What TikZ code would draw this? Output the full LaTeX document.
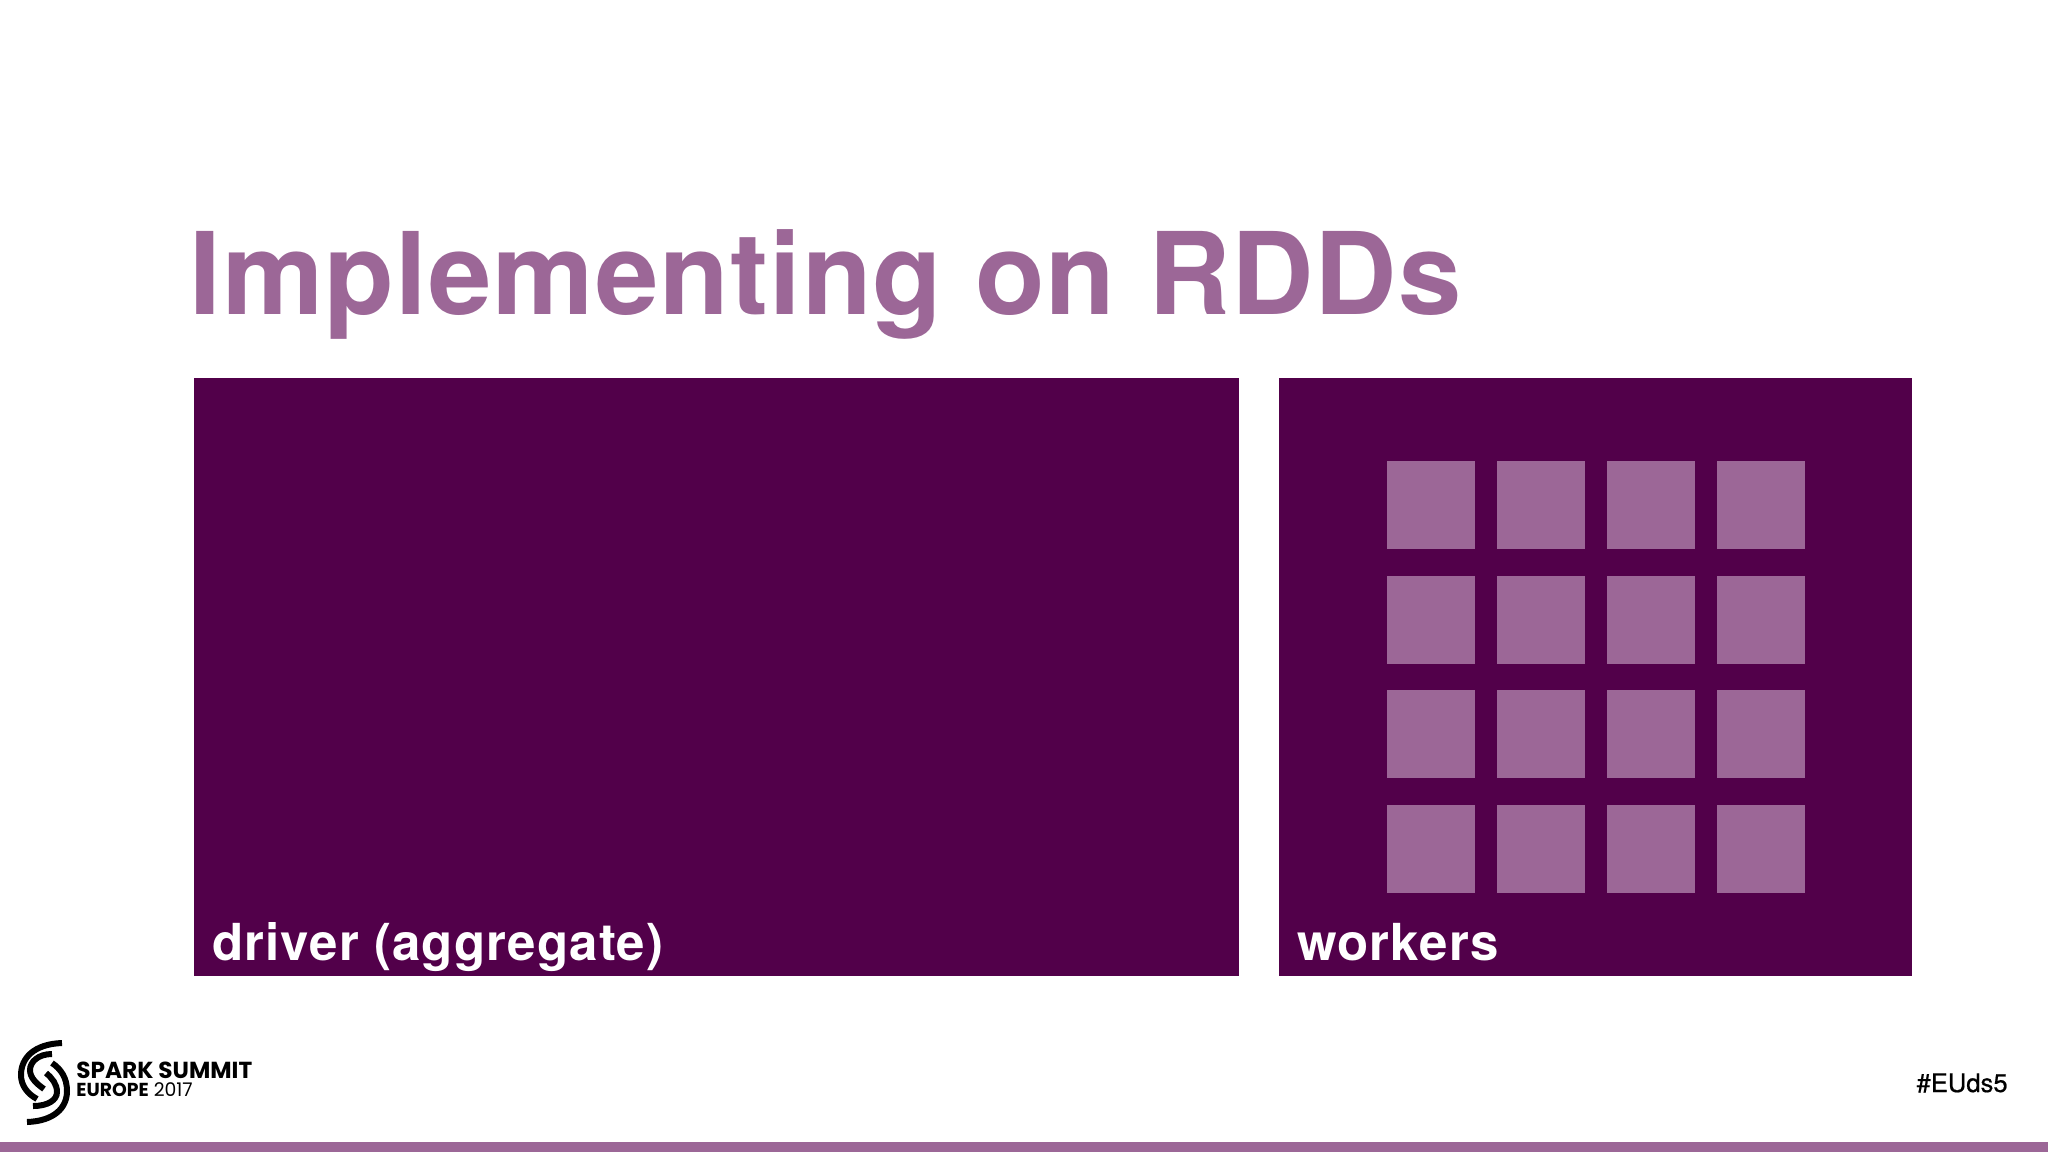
\documentclass[tikz,border=0pt]{standalone}
\usepackage{fontspec}
\setmainfont{TeX Gyre Heros}
\newfontfamily\titlefont[LetterSpace=0.9]{TeX Gyre Heros}
\newfontfamily\labelfont[LetterSpace=2.2]{TeX Gyre Heros}
\newfontfamily\tagfont[FakeBold=0.6]{TeX Gyre Heros}
\newfontfamily\logofont{Poppins}
\usepackage{xcolor}
\usetikzlibrary{positioning}
\definecolor{darkplum}{HTML}{52004A}
\definecolor{lightplum}{HTML}{9C6797}
\tikzset{panel node/.style={rectangle,fill=darkplum,anchor=north west,inner sep=0pt,outer sep=0pt},
  worker node/.style={rectangle,fill=lightplum,minimum size=44pt,inner sep=0pt,outer sep=0pt},
  panel label/.style={text=white,anchor=base west,inner sep=0pt,font=\labelfont\fontsize{25.5}{30}\selectfont\bfseries},
  logo arc/.style={draw=black,line width=3pt}}

\begin{document}
\begin{tikzpicture}[x=0.5pt, y=-0.5pt, node distance=13.3pt and 11pt]
    \useasboundingbox (0,0) rectangle (2048,1152);
    \fill[lightplum] (0,1142) rectangle (2048,1152);

    \node[anchor=base west, inner sep=0pt, text=lightplum, font=\titlefont\fontsize{57}{66}\selectfont\bfseries] (title) at (189,314) {Implementing on RDDs};

    \node[panel node, minimum width=522.5pt, minimum height=299pt] (driver) at (194,378) {};
    \node[panel node, minimum width=316.5pt, minimum height=299pt] (workers) at (1279,378) {};
    \node[panel label] (driverlabel) at (212,960) {driver (aggregate)};
    \node[panel label] (workerslabel) at (1297,960) {workers};

    \node[worker node, anchor=north west] (w11) at (1387,461) {};
    \node[worker node] (w12) [right = of w11] {};
    \node[worker node] (w13) [right = of w12] {};
    \node[worker node] (w14) [right = of w13] {};
    \node[worker node] (w21) [below = of w11] {};
    \node[worker node] (w22) [right = of w21] {};
    \node[worker node] (w23) [right = of w22] {};
    \node[worker node] (w24) [right = of w23] {};
    \node[worker node] (w31) [below = of w21] {};
    \node[worker node] (w32) [right = of w31] {};
    \node[worker node] (w33) [right = of w32] {};
    \node[worker node] (w34) [right = of w33] {};
    \node[worker node] (w41) [below = of w31] {};
    \node[worker node] (w42) [right = of w41] {};
    \node[worker node] (w43) [right = of w42] {};
    \node[worker node] (w44) [right = of w43] {};

    \node[anchor=base west, inner sep=0pt, font=\logofont\fontsize{11.6}{13}\selectfont\bfseries] (spark) at (76,1078) {SPARK SUMMIT};
    \node[anchor=base west, inner sep=0pt, font=\logofont\fontsize{9.4}{11}\selectfont] (europe) at (76,1096) {\textbf{EUROPE} 2017};
    \node[anchor=base east, inner sep=0pt, font=\tagfont\fontsize{12.8}{15}\selectfont] (tag) at (2008,1092) {\#EUds5};

    \draw[logo arc] (62,1043) .. controls (34,1044) and (21,1058) .. (21,1075) .. controls (21,1086) and (28,1094) .. (37,1099);
    \draw[logo arc] (27,1122) .. controls (54,1121) and (67,1108) .. (67,1091) .. controls (67,1078) and (61,1069) .. (52,1063);
    \draw[logo arc] (52,1054) .. controls (38,1054) and (30,1062) .. (30,1070) .. controls (30,1078) and (37,1084) .. (44,1089);
    \draw[logo arc] (33,1106) .. controls (48,1106) and (57,1100) .. (57,1092) .. controls (57,1084) and (52,1078) .. (46,1073);
\end{tikzpicture}
\end{document}
